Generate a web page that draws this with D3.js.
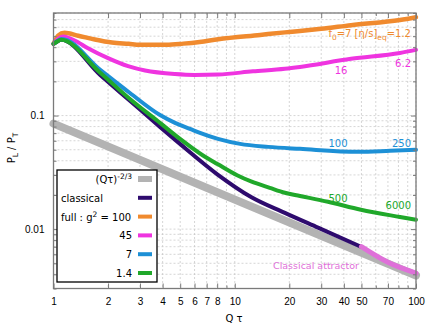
<!DOCTYPE html>
<meta charset="utf-8">
<style>

body {
  margin: 0;
  background: #fff;
}

svg {
  font-family: "DejaVu Sans", sans-serif;
}

.grid line {
  stroke: #c4c4c4;
  stroke-width: 0.7;
  stroke-dasharray: 2,2;
}

.axis path { display: none; }
.axis line { stroke: #7a7a7a; }
.axis text { font-size: 10px; fill: #000; }

.curve { fill: none; stroke-linejoin: round; stroke-linecap: round; }

</style>
<body>
<script src="https://cdn.jsdelivr.net/npm/d3@7/dist/d3.min.js"></script>
<script>

// values: [Q tau, P_L / P_T]
var powerLaw = [[1, 0.085], [100, 0.0039]];
var classical = [[1, 0.428], [1.05, 0.45], [1.1, 0.464], [1.81, 0.228], [2.64, 0.135], [3.87, 0.0795],
  [4.99, 0.0563], [8.08, 0.0301], [12.3, 0.0192], [18.9, 0.0139], [28.8, 0.0103], [49.7, 0.0070]];
var full100 = [[1, 0.428], [1.03, 0.47], [1.06, 0.505], [1.15, 0.535], [1.37, 0.505], [1.69, 0.468],
  [2.1, 0.44], [2.6, 0.428], [3.0, 0.42], [4.2, 0.42], [5.2, 0.43], [6.4, 0.445], [8.1, 0.47],
  [13.8, 0.513], [18.9, 0.54], [22.9, 0.555], [30, 0.58], [43.8, 0.625], [81.6, 0.695], [100, 0.735]];
var full45 = [[1, 0.428], [1.06, 0.475], [1.13, 0.496], [1.3, 0.46], [1.55, 0.392], [2.0, 0.32],
  [2.58, 0.272], [3.2, 0.249], [4.68, 0.232], [6.0, 0.228], [8.1, 0.23], [12.6, 0.245], [18.9, 0.258],
  [22.9, 0.268], [43.8, 0.316], [81.6, 0.356], [100, 0.379]];
var full7 = [[1, 0.428], [1.05, 0.455], [1.11, 0.473], [1.81, 0.2525], [2.64, 0.158], [3.87, 0.101],
  [4.68, 0.0862], [5.66, 0.0764], [6.43, 0.0704], [8.08, 0.0623], [10.7, 0.0563], [15.3, 0.053],
  [22.9, 0.0509], [47.9, 0.0479], [71.9, 0.0489], [100, 0.0499]];
var full14 = [[1, 0.428], [1.05, 0.45], [1.1, 0.464], [1.81, 0.238], [2.64, 0.14], [3.87, 0.0862],
  [4.99, 0.0623], [6.68, 0.0445], [8.08, 0.0372], [10.3, 0.0298], [12.3, 0.0263], [15.6, 0.0231],
  [18.9, 0.0209], [22.9, 0.0196], [32.7, 0.0174], [49.7, 0.0148], [81.6, 0.0128], [100, 0.0121]];
var attractor = [[50, 0.0070], [70, 0.0051], [100, 0.0041]];

var xTickLabels = [1, 2, 3, 4, 5, 6, 7, 8, 10, 20, 30, 40, 50, 70, 100];
var yTickLabels = [0.01, 0.1];

var W = 436, H = 327;
var plot = {left: 53.5, right: 416, top: 13, bottom: 288.5};

var x = d3.scaleLog().domain([1, 100]).range([plot.left, plot.right]);
var y = d3.scaleLog().domain([0.003, 0.8]).range([plot.bottom, plot.top]);

var svg = d3.select("body").append("svg")
    .attr("width", W)
    .attr("height", H);

// dotted grid on every decade subdivision
var grid = svg.append("g").attr("class", "grid");
grid.selectAll(".gx")
    .data(x.ticks())
  .enter().append("line")
    .attr("x1", function(d) { return x(d); })
    .attr("x2", function(d) { return x(d); })
    .attr("y1", plot.top)
    .attr("y2", plot.bottom);
grid.selectAll(".gy")
    .data(y.ticks())
  .enter().append("line")
    .attr("x1", plot.left)
    .attr("x2", plot.right)
    .attr("y1", function(d) { return y(d); })
    .attr("y2", function(d) { return y(d); });

// curves
var line = d3.line()
    .x(function(d) { return x(d[0]); })
    .y(function(d) { return y(d[1]); })
    .curve(d3.curveMonotoneX);

var series = [
  {data: powerLaw, color: "#b3b3b3", w: 8},
  {data: classical, color: "#2e0b6e", w: 4},
  {data: full100, color: "#f08a2e", w: 4.5},
  {data: full45, color: "#ef34e0", w: 4},
  {data: full7, color: "#1d90d6", w: 4},
  {data: full14, color: "#20a82a", w: 4},
  {data: attractor, color: "#df70d9", w: 5}
];

svg.selectAll(".curve")
    .data(series)
  .enter().append("path")
    .attr("class", "curve")
    .attr("d", function(d) { return line(d.data); })
    .style("stroke", function(d) { return d.color; })
    .style("stroke-width", function(d) { return d.w; });

// axes, ticks pointing inwards, mirrored on top and right
var majorX = xTickLabels;
var minorX = x.ticks().filter(function(d) { return majorX.indexOf(d) < 0; });
var minorY = y.ticks().filter(function(d) { return yTickLabels.indexOf(d) < 0; });

svg.append("g")
    .attr("class", "axis")
    .attr("transform", "translate(0," + plot.bottom + ")")
    .call(d3.axisBottom(x).tickValues(majorX).tickSize(-5).tickPadding(9).tickFormat(d3.format("d")));
svg.append("g")
    .attr("class", "axis")
    .attr("transform", "translate(0," + plot.bottom + ")")
    .call(d3.axisBottom(x).tickValues(minorX).tickSize(-3).tickFormat(""));
svg.append("g")
    .attr("class", "axis")
    .attr("transform", "translate(0," + plot.top + ")")
    .call(d3.axisTop(x).tickValues(majorX).tickSize(-5).tickFormat(""));
svg.append("g")
    .attr("class", "axis")
    .attr("transform", "translate(0," + plot.top + ")")
    .call(d3.axisTop(x).tickValues(minorX).tickSize(-3).tickFormat(""));

svg.append("g")
    .attr("class", "axis")
    .attr("transform", "translate(" + plot.left + ",0)")
    .call(d3.axisLeft(y).tickValues(yTickLabels).tickSize(-5).tickPadding(9).tickFormat(function(d) { return d; }));
svg.append("g")
    .attr("class", "axis")
    .attr("transform", "translate(" + plot.left + ",0)")
    .call(d3.axisLeft(y).tickValues(minorY).tickSize(-3).tickFormat(""));
svg.append("g")
    .attr("class", "axis")
    .attr("transform", "translate(" + plot.right + ",0)")
    .call(d3.axisRight(y).tickValues(yTickLabels).tickSize(-5).tickFormat(""));
svg.append("g")
    .attr("class", "axis")
    .attr("transform", "translate(" + plot.right + ",0)")
    .call(d3.axisRight(y).tickValues(minorY).tickSize(-3).tickFormat(""));

svg.append("rect")
    .attr("x", plot.left)
    .attr("y", plot.top)
    .attr("width", plot.right - plot.left)
    .attr("height", plot.bottom - plot.top)
    .style("fill", "none")
    .style("stroke", "#7a7a7a")
    .style("stroke-width", 1.3);

// axis titles
var yl = svg.append("text")
    .attr("transform", "translate(15,148) rotate(-90)")
    .style("text-anchor", "middle")
    .style("font-size", "10px");
yl.append("tspan").text("P");
yl.append("tspan").attr("dy", 3).style("font-size", "7.5px").text("L");
yl.append("tspan").attr("dy", -3).text(" / P");
yl.append("tspan").attr("dy", 3).style("font-size", "7.5px").text("T");

svg.append("text")
    .attr("x", 234)
    .attr("y", 322)
    .style("text-anchor", "middle")
    .style("font-size", "10px")
    .text("Q  τ");

// curve annotations
function note(t, px, py, anchor, color) {
  return svg.append("text")
      .attr("x", px)
      .attr("y", py)
      .style("text-anchor", anchor)
      .style("font-size", "10px")
      .style("fill", color)
      .text(t);
}

var f0 = svg.append("text")
    .attr("x", 411)
    .attr("y", 37)
    .style("text-anchor", "end")
    .style("font-size", "10px")
    .style("fill", "#f08a2e");
f0.append("tspan").text("f");
f0.append("tspan").attr("dy", 3).style("font-size", "7.5px").text("0");
f0.append("tspan").attr("dy", -3).text("=7  [η/s]");
f0.append("tspan").attr("dy", 3).style("font-size", "7.5px").text("eq");
f0.append("tspan").attr("dy", -3).text("=1.2");

note("16", 341, 74, "middle", "#ef34e0");
note("6.2", 411, 67, "end", "#ef34e0");
note("100", 338, 147, "middle", "#1d90d6");
note("250", 411, 147, "end", "#1d90d6");
note("500", 338, 202, "middle", "#20a82a");
note("6000", 411, 209, "end", "#20a82a");
note("Classical attractor", 273, 269, "start", "#df70d9").style("font-size", "9.5px");

// legend
var legendItems = [
  {label: "(Qτ)", sup: "-2/3", color: "#b3b3b3", w: 6, anchor: "end"},
  {label: "classical", color: "#2e0b6e", w: 4, anchor: "start"},
  {label: "full : g", sup: "2", rest: " = 100", color: "#f08a2e", w: 4, anchor: "start"},
  {label: "45", color: "#ef34e0", w: 4, anchor: "end"},
  {label: "7", color: "#1d90d6", w: 4, anchor: "end"},
  {label: "1.4", color: "#20a82a", w: 4, anchor: "end"}
];

var legend = svg.append("g");
legend.append("rect")
    .attr("x", 57)
    .attr("y", 170)
    .attr("width", 100)
    .attr("height", 112)
    .style("fill", "#fff")
    .style("stroke", "#000")
    .style("stroke-width", 1.3);

var rows = legend.selectAll(".legend")
    .data(legendItems)
  .enter().append("g")
    .attr("class", "legend")
    .attr("transform", function(d, i) { return "translate(0," + (179 + i * 18.8) + ")"; });

rows.append("line")
    .attr("x1", 138)
    .attr("x2", 152)
    .style("stroke", function(d) { return d.color; })
    .style("stroke-width", function(d) { return d.w; });

rows.each(function(d) {
  var t = d3.select(this).append("text")
      .attr("x", d.anchor === "end" ? 132 : 61)
      .attr("y", 4)
      .style("text-anchor", d.anchor)
      .style("font-size", "10px");
  t.append("tspan").text(d.label);
  if (d.sup) t.append("tspan").attr("dy", -4).style("font-size", "7.5px").text(d.sup);
  if (d.rest) t.append("tspan").attr("dy", 4).text(d.rest);
});

</script>
